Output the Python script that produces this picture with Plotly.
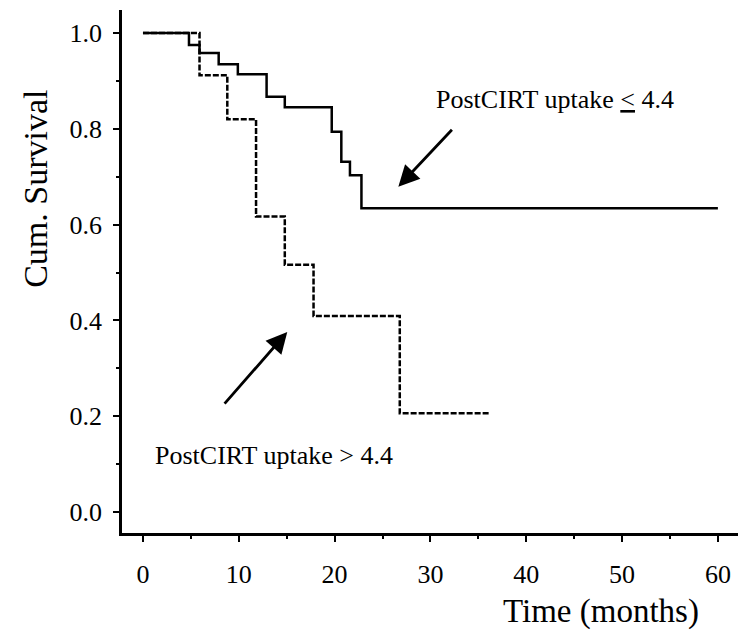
import plotly.graph_objects as go

# Kaplan-Meier curves
low_times = [0, 4.8, 5.9, 7.9, 9.9, 12.9, 14.8, 19.7, 20.7, 21.6, 22.8, 60]
low_surv = [1.0, 0.975, 0.958, 0.935, 0.914, 0.867, 0.845, 0.794, 0.731, 0.703, 0.634, 0.634]

high_times = [0, 5.9, 8.8, 11.8, 14.8, 17.8, 26.8, 36.2]
high_surv = [1.0, 0.912, 0.82, 0.617, 0.516, 0.409, 0.206, 0.206]

x_ticks = [0, 10, 20, 30, 40, 50, 60]
y_ticks = [0.0, 0.2, 0.4, 0.6, 0.8, 1.0]

label_low = "PostCIRT uptake <u>&lt;</u> 4.4"
label_high = "PostCIRT uptake &gt; 4.4"

FONT = "Liberation Serif, Times New Roman, serif"

fig = go.Figure()
fig.add_trace(go.Scatter(x=low_times, y=low_surv, mode="lines", line_shape="hv",
                         line=dict(color="black", width=2.5), showlegend=False))
fig.add_trace(go.Scatter(x=high_times, y=high_surv, mode="lines", line_shape="hv",
                         line=dict(color="black", width=2.5, dash="6px,2px"), showlegend=False))

axis_common = dict(showline=True, linecolor="black", linewidth=2.5, ticks="outside",
                   ticklen=6, tickwidth=2, tickcolor="black", showgrid=False, zeroline=False,
                   tickfont=dict(family=FONT, size=26, color="black"))

fig.update_xaxes(range=[-2.19, 62.1], tickvals=x_ticks, ticklabelstandoff=10,
                 minor=dict(dtick=5, ticks="outside", ticklen=3, tickwidth=2, tickcolor="black"),
                 **axis_common)
fig.update_yaxes(range=[-0.0438, 1.048], tickvals=y_ticks, tickformat=".1f", ticklabelstandoff=6,
                 minor=dict(dtick=0.1, ticks="outside", ticklen=3, tickwidth=2, tickcolor="black"),
                 **axis_common)

fig.add_annotation(x=30.4, y=0.862, xref="x", yref="y", text=label_low, showarrow=False,
                   xanchor="left", yanchor="middle", font=dict(family=FONT, size=26, color="black"))
fig.add_annotation(x=1.0, y=0.117, xref="x", yref="y", text=label_high, showarrow=False,
                   xanchor="left", yanchor="middle", font=dict(family=FONT, size=26, color="black"))

# arrows
fig.add_annotation(x=26.65, y=0.679, ax=32.39, ay=0.801, xref="x", yref="y", axref="x", ayref="y",
                   text="", showarrow=True, arrowhead=2, arrowsize=1.5, arrowwidth=2.8, arrowcolor="black")
fig.add_annotation(x=15.06, y=0.376, ax=8.38, ay=0.223, xref="x", yref="y", axref="x", ayref="y",
                   text="", showarrow=True, arrowhead=2, arrowsize=1.5, arrowwidth=2.8, arrowcolor="black")

# axis titles
fig.add_annotation(x=-0.1396, y=0.658, xref="paper", yref="paper", text="Cum. Survival",
                   textangle=-90, showarrow=False, xanchor="center", yanchor="middle",
                   font=dict(family=FONT, size=34, color="black"))
fig.add_annotation(x=0.778, y=-0.151, xref="paper", yref="paper", text="Time (months)",
                   showarrow=False, xanchor="center", yanchor="middle",
                   font=dict(family=FONT, size=33, color="black"))

fig.update_layout(width=742, height=636, margin=dict(l=122, r=4, t=10, b=103),
                  plot_bgcolor="white", paper_bgcolor="white")

fig.write_html("out.html")
